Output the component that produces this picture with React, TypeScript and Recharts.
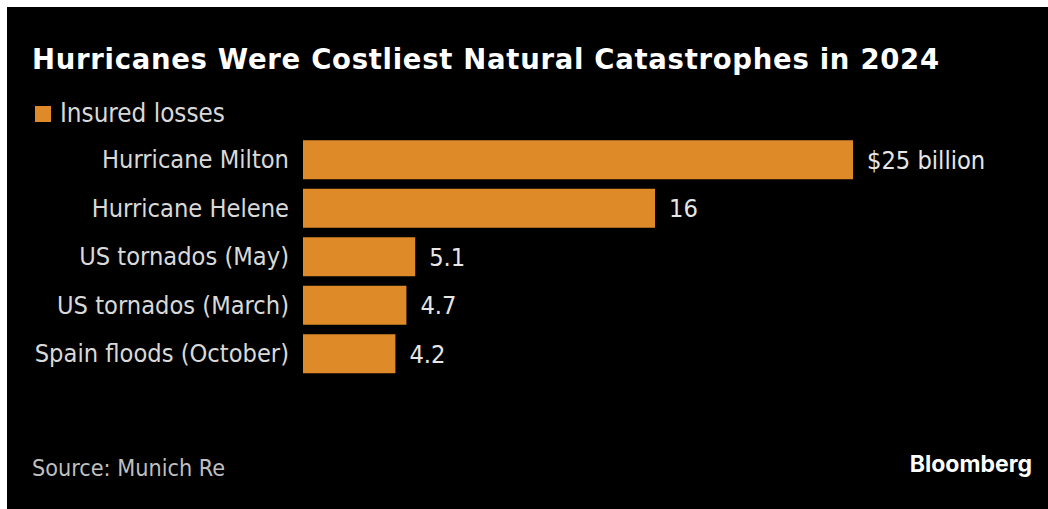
import React from "react";
import { BarChart, Bar, XAxis, YAxis, LabelList } from "recharts";

const categories = [
  "Hurricane Milton",
  "Hurricane Helene",
  "US tornados (May)",
  "US tornados (March)",
  "Spain floods (October)",
];
const insuredLosses = [25, 16, 5.1, 4.7, 4.2];
const valueLabels = ["$25 billion", "16", "5.1", "4.7", "4.2"];

const data = categories.map((name, i) => ({
  name,
  value: insuredLosses[i],
  label: valueLabels[i],
}));

const FONT = "'DejaVu Sans Condensed', 'DejaVu Sans', sans-serif";
const TITLE_FONT = "'DejaVu Sans', sans-serif";
const BAR = "#DE8A28";

export default function App() {
  return (
    <div
      style={{
        position: "fixed",
        left: 7,
        top: 7,
        right: 0,
        bottom: 0,
        background: "#000",
        overflow: "hidden",
      }}
    >
      <svg
        width={1041}
        height={502}
        style={{ position: "absolute", left: 0, top: 0 }}
      >
        <text
          x={25}
          y={62}
          fill="#ffffff"
          fontFamily={TITLE_FONT}
          fontWeight="bold"
          fontSize={27.5}
          letterSpacing={0.7}
        >
          Hurricanes Were Costliest Natural Catastrophes in 2024
        </text>
        <rect x={28} y={99} width={16} height={16} fill={BAR} />
        <text x={53} y={114.7} fill="#d9d9d9" fontFamily={FONT} fontSize={25.8}>
          Insured losses
        </text>
        <text x={25} y={469} fill="#bfbfbf" fontFamily={FONT} fontSize={23.2}>
          Source: Munich Re
        </text>
        <text
          x={1025}
          y={465.3}
          textAnchor="end"
          fill="#ffffff"
          fontFamily="Inter, sans-serif"
          fontWeight={700}
          fontSize={23}
        >
          Bloomberg
        </text>
      </svg>
      <div style={{ position: "absolute", left: 0, top: 0 }}>
        <BarChart
          width={1041}
          height={400}
          data={data}
          layout="vertical"
          margin={{ top: 128.25, right: 195, bottom: 29.25, left: 0 }}
          barCategoryGap={5}
        >
          <XAxis type="number" domain={[0, 25]} hide />
          <YAxis
            type="category"
            dataKey="name"
            width={296}
            axisLine={false}
            tickLine={false}
            tickSize={0}
            tickMargin={14}
            interval={0}
            tick={{ fill: "#d9d9d9", fontSize: 25.2, fontFamily: FONT }}
          />
          <Bar dataKey="value" fill={BAR} isAnimationActive={false}>
            <LabelList
              dataKey="label"
              position="right"
              offset={14}
              fill="#e6e6e6"
              fontSize={25.2}
              fontFamily={FONT}
            />
          </Bar>
        </BarChart>
      </div>
    </div>
  );
}
